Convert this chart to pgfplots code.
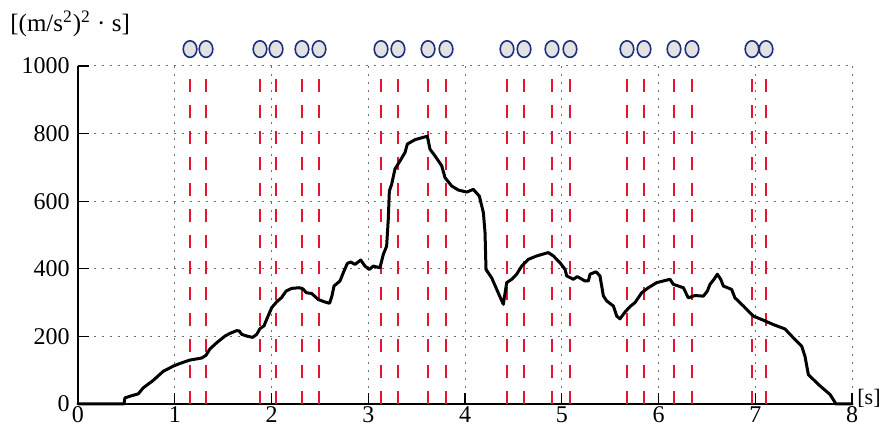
\documentclass[border=0pt]{standalone}
\usepackage{fontspec}
\setmainfont{Liberation Serif}
\usepackage{pgfplots}
\pgfplotsset{compat=1.18}
\definecolor{redline}{RGB}{228,20,50}
\definecolor{navy}{RGB}{30,45,125}
\definecolor{cfill}{RGB}{226,226,226}
\definecolor{gridgray}{RGB}{110,110,110}
\begin{document}
\begin{tikzpicture}
\begin{axis}[name=ax, scale only axis, width=387pt, height=169pt,
 xmin=0, xmax=8, ymin=0, ymax=1000,
 axis x line=bottom, axis y line=left,
 axis line style={-, line width=0.9pt},
 xtick={0,1,...,8}, ytick={0,200,...,1000},
 tick align=inside, major tick length=5.5pt,
 tick style={black, line width=0.6pt},
 grid=major, grid style={gridgray, dash pattern=on 1pt off 3pt, line width=0.5pt},
 font=\fontsize{12}{14}\selectfont,
 /pgf/number format/assume math mode=true,
 /pgf/number format/1000 sep={},
 xticklabel style={inner sep=0pt, anchor=north, yshift=-1pt},
 yticklabel style={inner sep=0pt, anchor=east, xshift=-4pt},
 scaled ticks=false,
 clip=false]
\addplot[ycomb, no marks, redline, line width=1pt, dash pattern=on 6.3pt off 6.7pt] coordinates {
(1.158,1000) (1.323,1000) (1.881,1000) (2.047,1000) (2.315,1000) (2.491,1000)
(3.132,1000) (3.307,1000) (3.618,1000) (3.804,1000) (4.434,1000) (4.610,1000)
(4.899,1000) (5.085,1000) (5.674,1000) (5.850,1000) (6.160,1000) (6.346,1000)
(6.966,1000) (7.111,1000)};
\addplot[only marks, mark=*, mark size=3.4pt, mark options={yscale=1.22, fill=cfill, draw=navy, line width=0.8pt}] coordinates {
(1.158,1050) (1.323,1050) (1.881,1050) (2.047,1050) (2.315,1050) (2.491,1050)
(3.132,1050) (3.307,1050) (3.618,1050) (3.804,1050) (4.434,1050) (4.610,1050)
(4.899,1050) (5.085,1050) (5.674,1050) (5.850,1050) (6.160,1050) (6.346,1050)
(6.966,1050) (7.111,1050)};
\addplot[black, line width=1.5pt, line join=round, line cap=round] coordinates {
(0,0) (0.475,0) (0.485,18) (0.537,23) (0.623,30) (0.675,48) (0.778,70) (0.882,97)
(0.985,112) (1.054,120) (1.158,130) (1.278,136) (1.323,144) (1.364,163) (1.433,181)
(1.519,201) (1.571,209) (1.640,217) (1.667,216) (1.692,206) (1.744,201) (1.805,197)
(1.847,206) (1.881,223) (1.922,231) (1.957,255) (2.002,285) (2.053,302) (2.105,315)
(2.150,334) (2.208,342) (2.287,344) (2.322,341) (2.363,329) (2.415,327) (2.484,309)
(2.55,302) (2.60,298) (2.625,320) (2.646,349) (2.708,364) (2.743,389) (2.784,416)
(2.818,420) (2.863,413) (2.922,426) (2.966,408) (3.011,398) (3.052,408) (3.121,403)
(3.156,443) (3.190,467) (3.207,547) (3.218,630) (3.242,650) (3.276,695) (3.328,719)
(3.380,744) (3.404,769) (3.483,782) (3.569,789) (3.611,792) (3.638,754) (3.690,734)
(3.759,705) (3.793,670) (3.862,645) (3.931,633) (4.018,627) (4.086,635) (4.148,615)
(4.190,566) (4.207,507) (4.217,398) (4.276,373) (4.328,339) (4.396,295) (4.431,359)
(4.483,369) (4.534,384) (4.586,408) (4.655,428) (4.741,438) (4.861,448) (4.913,438)
(4.982,418) (5.034,398) (5.051,379) (5.120,369) (5.161,377) (5.240,364) (5.275,364)
(5.292,384) (5.354,391) (5.395,379) (5.430,320) (5.464,305) (5.533,290) (5.568,260)
(5.602,252) (5.654,272) (5.705,288) (5.757,300) (5.826,329) (5.895,344) (5.981,359)
(6.119,369) (6.153,354) (6.257,344) (6.308,314) (6.377,321) (6.463,319) (6.505,334)
(6.532,354) (6.574,369) (6.608,384) (6.643,369) (6.670,349) (6.756,339) (6.790,314)
(6.877,290) (6.980,260) (7.083,248) (7.187,235) (7.307,222) (7.393,196) (7.480,171)
(7.514,141) (7.549,87) (7.652,58) (7.773,28) (7.835,0) (8,0)};
\end{axis}
\node[anchor=west, inner sep=0pt, font=\fontsize{12.5}{14}\selectfont] at ([shift={(-34pt,21pt)}]ax.north west) {[(m/s\textsuperscript{2})\textsuperscript{2} · s]};
\node[anchor=west, inner sep=0pt, font=\fontsize{11}{13}\selectfont] at ([shift={(2.5pt,3pt)}]ax.south east) {[s]};
\pgfresetboundingbox
\path[use as bounding box] ([shift={(-39pt,-11pt)}]ax.south west) rectangle ([shift={(15pt,33pt)}]ax.north east);
\end{tikzpicture}
\end{document}
